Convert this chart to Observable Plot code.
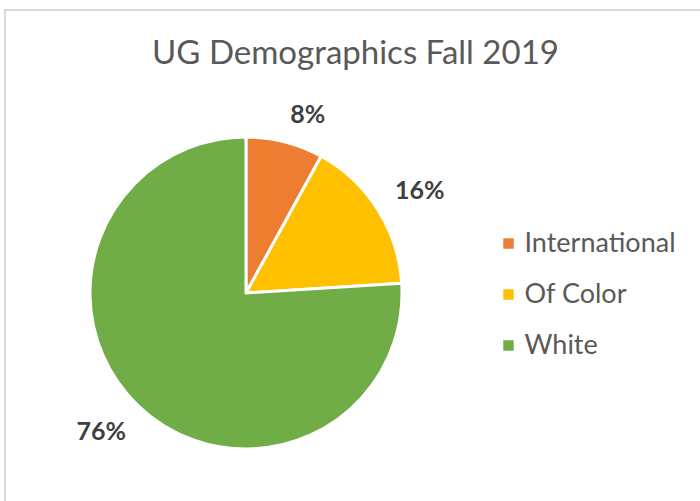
<!DOCTYPE html>
<html>
<head>
<meta charset="utf-8">
<script src="https://cdn.jsdelivr.net/npm/d3@7"></script>
<script src="https://cdn.jsdelivr.net/npm/@observablehq/plot@0.6"></script>
<style>
  html, body { margin: 0; padding: 0; background: #fff; overflow: hidden; }
  #frame { position: absolute; left: 4px; top: 9px; width: 720px; height: 520px; border-left: 2px solid #d9d9d9; border-top: 2px solid #d9d9d9; box-sizing: border-box; }
  #chart { position: absolute; left: 0; top: 0; }
</style>
</head>
<body>
<div id="frame"></div>
<div id="chart"></div>
<script>
const categories = ["International", "Of Color", "White"];
const shares = [8, 16, 76];
const pctLabels = ["8%", "16%", "76%"];
const colors = ["#ED7D31", "#FFC000", "#70AD47"];
const titleText = "UG Demographics Fall 2019";

const W = 700, H = 501;
const cx = 246, cy = 293, R = 156, labelGap = 20;
const legendX = 508, legendTextX = 524, legendY0 = 243, legendStep = 51;

const data = categories.map((c, i) => ({category: c, share: shares[i], label: pctLabels[i], i}));
const arcs = d3.pie().sort(null).value(d => d.share)(data);
const labelPts = arcs.map(a => {
  const m = (a.startAngle + a.endAngle) / 2;
  const s = Math.sin(m), c = Math.cos(m);
  return {...a.data, x: cx + (R + labelGap) * s, y: cy - (R + labelGap) * c, right: s >= 0, top: c >= 0};
});

function pieMark(index, scales) {
  const sx = scales.x || (v => v), sy = scales.y || (v => v);
  const col = scales.color || (c => colors[categories.indexOf(c)]);
  const g = d3.create("svg:g").attr("transform", `translate(${sx(cx)},${sy(cy)})`);
  const arc = d3.arc().innerRadius(0).outerRadius(R);
  g.selectAll("path").data(arcs).join("path")
    .attr("d", arc)
    .attr("fill", d => col(d.data.category))
    .attr("stroke", "white")
    .attr("stroke-width", 3)
    .attr("stroke-linejoin", "round");
  return g.node();
}

const labelStyle = {x: "x", y: "y", text: "label", fontSize: 25, fontWeight: "bold", fill: "#404040"};
const quad = (right, top) => Plot.text(labelPts, {
  ...labelStyle,
  filter: d => d.right === right && d.top === top,
  textAnchor: right ? "start" : "end",
  lineAnchor: top ? "bottom" : "top"
});

const chart = Plot.plot({
  width: W, height: H,
  margin: 0,
  x: {type: "identity", axis: null},
  y: {type: "identity", axis: null},
  color: {domain: categories, range: colors},
  style: {fontFamily: "Lato, 'Open Sans', sans-serif", background: "transparent", overflow: "visible"},
  marks: [
    pieMark,
    quad(true, true), quad(true, false), quad(false, true), quad(false, false),
    Plot.text([titleText], {x: 355, y: 53, text: d => d, fontSize: 33, fill: "#595959"}),
    Plot.dot(data, {x: legendX, y: d => legendY0 + d.i * legendStep, fill: "category", symbol: "square", r: 5.9, stroke: null}),
    Plot.text(data, {x: legendTextX, y: d => legendY0 + d.i * legendStep, text: "category", textAnchor: "start", fontSize: 27, fill: "#595959"})
  ]
});
document.getElementById("chart").appendChild(chart);
</script>
</body>
</html>
